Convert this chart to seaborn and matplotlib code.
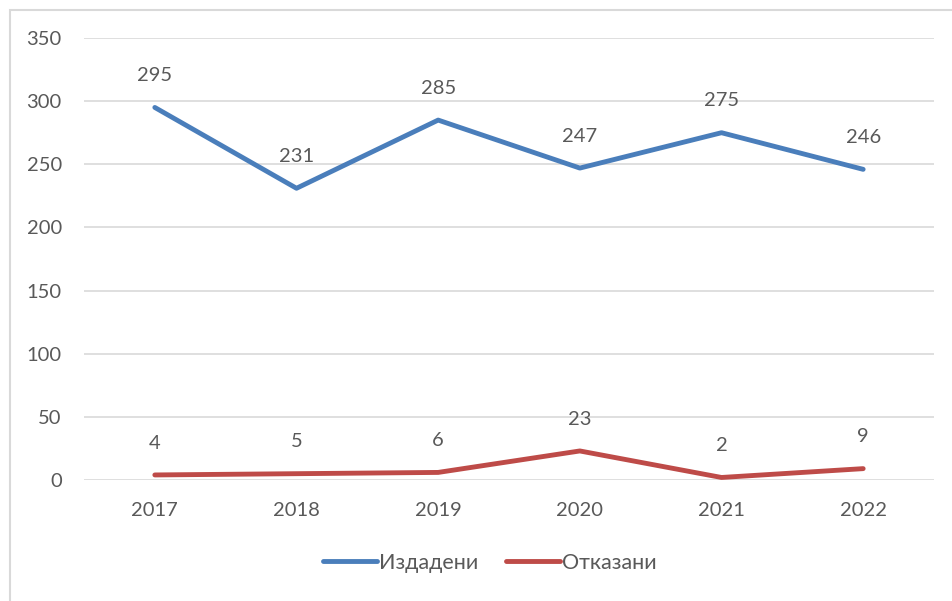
import pandas as pd
import seaborn as sns
import matplotlib.pyplot as plt
from matplotlib.patches import Rectangle

# --------------------------- DATA ---------------------------
years = ["2017", "2018", "2019", "2020", "2021", "2022"]
issued = [295, 231, 285, 247, 275, 246]
refused = [4, 5, 6, 23, 2, 9]
series_names = ["Издадени", "Отказани"]

df = pd.DataFrame({
    "year": years * 2,
    "value": issued + refused,
    "series": [series_names[0]] * len(years) + [series_names[1]] * len(years),
})

colors = {series_names[0]: "#4A7EBB", series_names[1]: "#BE4B48"}
text_col = "#595959"

# --------------------------- STYLE ---------------------------
sns.set_style("white")
plt.rcParams["font.family"] = ["Lato", "DejaVu Sans"]

fig = plt.figure(figsize=(9.52, 6.01), dpi=100)
ax = fig.add_axes([84 / 952, 121 / 601, 850 / 952, 442 / 601])

# chart border (Excel-like frame)
fig.patches.append(Rectangle((10 / 952, -0.05), 1.1, 1 - 10 / 601 + 0.05,
                             transform=fig.transFigure, fill=False,
                             edgecolor="#D9D9D9", linewidth=1.5))

# --------------------------- PLOT ---------------------------
sns.lineplot(data=df, x="year", y="value", hue="series", palette=colors,
             linewidth=3.5, ax=ax, legend=False, sort=False)
for line in ax.get_lines():
    line.set_solid_capstyle("round")

for _, row in df.iterrows():
    ax.annotate(f"{row['value']}", xy=(row["year"], row["value"]),
                xytext=(0, 23), textcoords="offset points",
                ha="center", va="center", fontsize=14.5, color=text_col)

ax.set_xlim(-0.5, len(years) - 0.5)
ax.set_ylim(0, 350)
ax.set_yticks(range(0, 351, 50))
ax.yaxis.grid(True, color="#D9D9D9", linewidth=1.2)
ax.xaxis.grid(False)
for s in ax.spines.values():
    s.set_visible(False)
ax.tick_params(axis="both", length=0, labelsize=14.5, labelcolor=text_col, pad=16)
ax.set_xlabel("")
ax.set_ylabel("")

# --------------------------- LEGEND ---------------------------
handles = [plt.Line2D([], [], color=colors[n], linewidth=3.5, solid_capstyle="round")
           for n in series_names]
leg = fig.legend(handles, series_names, loc="center",
                 bbox_to_anchor=(490 / 952, 1 - 563 / 601), ncol=2,
                 frameon=False, fontsize=15.5, handlelength=2.5,
                 handletextpad=0.1, columnspacing=1.3)
for t in leg.get_texts():
    t.set_color(text_col)

fig.savefig("out.png", dpi=100)
plt.close()
